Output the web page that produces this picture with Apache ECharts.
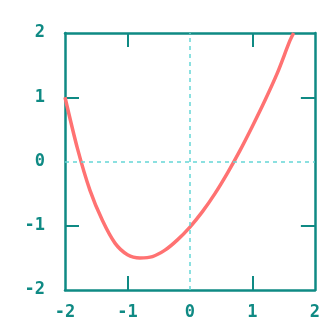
<!DOCTYPE html>
<html>
<head>
<meta charset="utf-8">
<script src="https://cdn.jsdelivr.net/npm/echarts@6/dist/echarts.min.js"></script>
<style>
  html, body { margin: 0; padding: 0; background: #fff; }
  #chart { width: 323px; height: 335px; }
</style>
</head>
<body>
<div id="chart"></div>
<script>
  // values
  var xs = [-2.0, -1.8, -1.6, -1.4, -1.2, -1.0, -0.8, -0.6, -0.4, -0.2, 0.0, 0.2, 0.4, 0.6, 0.8, 1.0, 1.2, 1.4, 1.6, 1.66]
  var ys = [1.0, 0.2, -0.45, -0.92, -1.27, -1.45, -1.5, -1.48, -1.38, -1.22, -1.02, -0.78, -0.5, -0.18, 0.17, 0.55, 0.95, 1.38, 1.88, 2.0]
  var ticks = [-2, -1, 0, 1, 2]
  var innerTicks = [-1, 1]
  var zeroLines = [0]

  var teal = '#0f8a84'
  var chart = echarts.init(document.getElementById('chart'))

  var labelStyle = {
    color: teal,
    fontFamily: 'DejaVu Sans Mono',
    fontWeight: 'bold',
    fontSize: 17
  }

  function axis(pos, showLabel) {
    return {
      type: 'value',
      position: pos,
      min: -2,
      max: 2,
      interval: 1,
      axisLine: { show: true, onZero: false, lineStyle: { color: teal, width: 2.5 } },
      axisTick: { show: true, inside: true, length: 14, customValues: innerTicks, lineStyle: { color: teal, width: 2 } },
      axisLabel: Object.assign({ show: showLabel, customValues: ticks }, labelStyle),
      splitLine: { show: false }
    }
  }

  var xTop = axis('top', false)
  var xBottom = axis('bottom', true)
  xBottom.axisLabel.margin = 14
  var yLeft = axis('left', true)
  yLeft.axisLabel.margin = 20
  var yRight = axis('right', false)

  var pts = xs.map(function(x, i) { return [x, ys[i]] })

  chart.setOption({
    animation: false,
    grid: { left: 65, right: 7, top: 33, bottom: 45 },
    xAxis: [xBottom, xTop],
    yAxis: [yLeft, yRight],
    series: [{
      type: 'line',
      data: pts,
      smooth: 0.3,
      showSymbol: false,
      clip: true,
      lineStyle: { color: '#ff7272', width: 3.5 },
      markLine: {
        silent: true,
        symbol: 'none',
        label: { show: false },
        lineStyle: { color: '#66d6d6', type: [4, 4], width: 1.5 },
        data: zeroLines.map(function(v) { return { xAxis: v } }).concat(
          zeroLines.map(function(v) { return { yAxis: v } }))
      }
    }]
  })
</script>
</body>
</html>
